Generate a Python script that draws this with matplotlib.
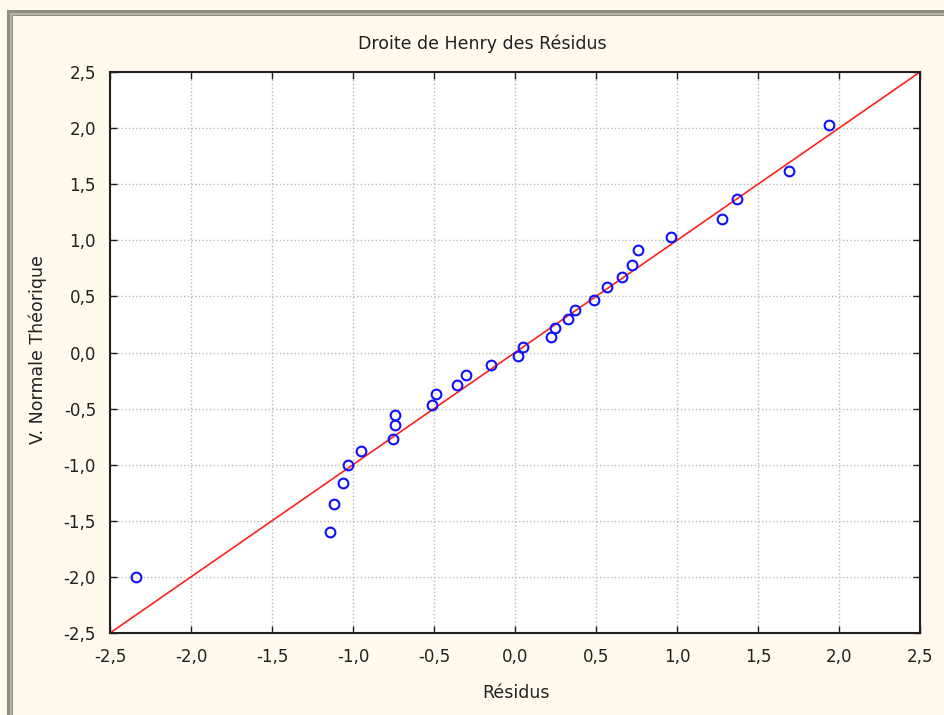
import matplotlib
matplotlib.use("Agg")
import matplotlib.pyplot as plt
from matplotlib.patches import Rectangle
from matplotlib.ticker import FuncFormatter
import numpy as np

# résidus observés et valeurs normales théoriques
residus = [-2.34, -1.14, -1.12, -1.06, -1.03, -0.95, -0.75, -0.74, -0.74,
           -0.51, -0.49, -0.36, -0.30, -0.15, 0.02, 0.05, 0.22, 0.25,
           0.33, 0.37, 0.49, 0.57, 0.66, 0.72, 0.76, 0.96, 1.28, 1.37,
           1.69, 1.94]
normale_theorique = [-2.00, -1.60, -1.35, -1.16, -1.00, -0.88, -0.77, -0.65, -0.56,
                     -0.47, -0.37, -0.29, -0.20, -0.11, -0.03, 0.05, 0.14, 0.22,
                     0.30, 0.38, 0.47, 0.58, 0.67, 0.78, 0.91, 1.03, 1.19, 1.37,
                     1.62, 2.03]
droite_x = [-2.5, 2.5]
droite_y = [-2.5, 2.5]
ticks = [-2.5, -2.0, -1.5, -1.0, -0.5, 0.0, 0.5, 1.0, 1.5, 2.0, 2.5]

plt.rcParams['font.family'] = ['DejaVu Sans']

W, H = 945, 715
fig = plt.figure(figsize=(W / 100, H / 100), dpi=100)
fig.patch.set_facecolor('#fff9ee')

# cadre de fenêtre (gauche et haut)
fig.patches.append(Rectangle((7 / W, 0), 6 / W, (H - 10) / H, transform=fig.transFigure,
                             facecolor='#8e8e80', edgecolor='none'))
fig.patches.append(Rectangle((7 / W, (H - 16) / H), (W - 7) / W, 6 / H, transform=fig.transFigure,
                             facecolor='#8e8e80', edgecolor='none'))
fig.patches.append(Rectangle((10 / W, 0), 2 / W, (H - 13) / H, transform=fig.transFigure,
                             facecolor='#b4b4a6', edgecolor='none'))
fig.patches.append(Rectangle((10 / W, (H - 15) / H), (W - 10) / W, 2 / H, transform=fig.transFigure,
                             facecolor='#b4b4a6', edgecolor='none'))

ax = fig.add_axes([110 / W, 82 / H, 810 / W, 561 / H])
ax.set_facecolor('white')

ax.plot(droite_x, droite_y, color='#ff2020', lw=1.2, zorder=2)
ax.plot(residus, normale_theorique, 'o', ms=7, mfc='none', mec='#1010ff', mew=1.5, zorder=3)

ax.set_xlim(-2.5, 2.5)
ax.set_ylim(-2.5, 2.5)
ax.set_xticks(ticks)
ax.set_yticks(ticks)
fmt = FuncFormatter(lambda v, p: f"{v:.1f}".replace('.', ','))
ax.xaxis.set_major_formatter(fmt)
ax.yaxis.set_major_formatter(fmt)
ax.tick_params(direction='in', length=5, width=1, top=True, right=True,
               labelsize=12, colors='#202020')
ax.tick_params(axis='x', pad=11)
ax.tick_params(axis='y', pad=10)
ax.grid(True, color='#b8b8b8', linestyle=':', linewidth=1)
for s in ax.spines.values():
    s.set_linewidth(1.5)
    s.set_color('#202020')

fig.text(482 / W, 1 - 44 / H, 'Droite de Henry des Résidus', ha='center', va='center',
         fontsize=12.5, color='#202020')
fig.text(516 / W, 1 - 693 / H, 'Résidus', ha='center', va='center', fontsize=12.5, color='#202020')
fig.text(38 / W, 1 - 350 / H, 'V. Normale Théorique', ha='center', va='center', rotation=90,
         fontsize=12.5, color='#202020')

fig.savefig('out.png', dpi=100, facecolor=fig.get_facecolor())
